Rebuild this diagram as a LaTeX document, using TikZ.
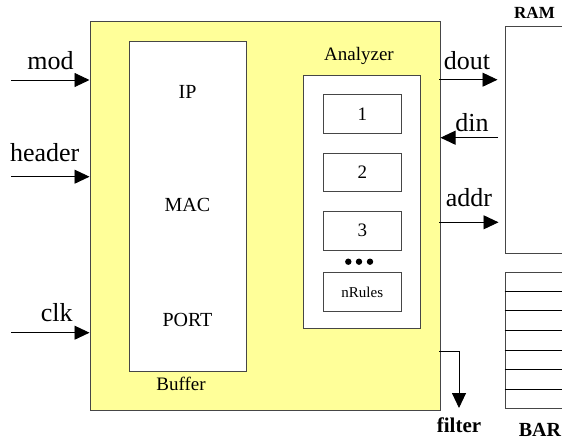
\documentclass[tikz,border=0pt]{standalone}
\usepackage{fontspec}
\setmainfont{Liberation Serif}
\usetikzlibrary{arrows.meta}
\definecolor{chipyellow}{RGB}{255,255,153}
\definecolor{edgegray}{RGB}{70,70,70}

\begin{document}
\begin{tikzpicture}[x=1pt,y=-1pt,
    box/.style={draw=edgegray,line width=1pt,inner sep=0pt},
    rulebox/.style={box,fill=white,minimum width=78pt,minimum height=38.7pt,font=\fontsize{19}{21}\selectfont},
    sig/.style={line width=0.9pt,-{Triangle[length=15pt,width=14pt]}},
    pinlabel/.style={anchor=base,inner sep=0pt,font=\fontsize{26}{28}\selectfont},
    boxlabel/.style={anchor=base,inner sep=0pt,font=\fontsize{20}{22}\selectfont},
    memlabel/.style={anchor=base,inner sep=0pt,font=\bfseries\fontsize{#1}{22}\selectfont}]
  \useasboundingbox (0,0) rectangle (562,440);

  % filter chip with its buffer and analyzer
  \node[box,fill=chipyellow,minimum width=350pt,minimum height=389pt] (chip) at (265,215.5) {};
  \node[box,fill=white,minimum width=117pt,minimum height=330pt] (buffer) at (187.5,206) {};
  \node[box,fill=white,minimum width=117pt,minimum height=253pt] (analyzer) at (362.3,201.5) {};
  \node[boxlabel] (ip) at (187.5,98.3) {IP};
  \node[boxlabel] (mac) at (187.5,211.7) {MAC};
  \node[boxlabel] (port) at (187.5,326) {PORT};
  \node[boxlabel,font=\fontsize{19}{21}\selectfont] (bufname) at (181,390) {Buffer};
  \node[boxlabel,font=\fontsize{19}{21}\selectfont] (ananame) at (359,60) {Analyzer};

  \foreach \y/\t/\n in {114/1/rule1,172.5/2/rule2,230.7/3/rule3}
    \node[rulebox] (\n) at (362.3,\y) {\t};
  \node[rulebox,font=\fontsize{15}{17}\selectfont] (rulen) at (362.3,292.2) {nRules};
  \foreach \x in {348.3,359,370}
    \fill (\x,261.7) circle (3.2pt);

  % RAM and BAR memories on the right
  \node[box,fill=white,minimum width=70pt,minimum height=226.7pt] (ram) at (540,139.7) {};
  \node[box,fill=white,minimum width=70pt,minimum height=136pt] (bar) at (540,340.7) {};
  \foreach \y in {291.7,310.3,330,350,369.3,389.3}
    \draw[line width=0.8pt] (bar.west |- 0,\y) -- (bar.east |- 0,\y);
  \node[memlabel=17] (ramname) at (534.5,18.3) {RAM};
  \node[memlabel=20] (barname) at (540,436) {BAR};

  % inputs
  \coordinate (mod-in) at (11,80);
  \coordinate (header-in) at (11,176.7);
  \coordinate (clk-in) at (11,332.7);
  \draw[sig] (mod-in) -- (mod-in -| chip.west);
  \draw[sig] (header-in) -- (header-in -| chip.west);
  \draw[sig] (clk-in) -- (clk-in -| chip.west);
  \node[pinlabel] (modname) at (50.5,69) {mod};
  \node[pinlabel] (headername) at (44.7,161) {header};
  \node[pinlabel] (clkname) at (56.7,321.7) {clk};

  % memory bus
  \coordinate (dout-out) at (439,79.7);
  \coordinate (din-in) at (498,137.7);
  \coordinate (addr-out) at (439,222.3);
  \draw[sig,shorten >=7pt] (dout-out) -- (dout-out -| ram.west);
  \draw[sig] (din-in) -- (din-in -| chip.east);
  \draw[sig,shorten >=6pt] (addr-out) -- (addr-out -| ram.west);
  \node[pinlabel] (doutname) at (467,69.3) {dout};
  \node[pinlabel] (dinname) at (472,131.7) {din};
  \node[pinlabel] (addrname) at (469,206.7) {addr};

  % filter output
  \coordinate (filter-out) at (439,351.7);
  \coordinate (filter-end) at (459,408);
  \draw[sig] (filter-out) -| (filter-end);
  \node[memlabel=21] (filtername) at (459,432.3) {filter};
\end{tikzpicture}
\end{document}
